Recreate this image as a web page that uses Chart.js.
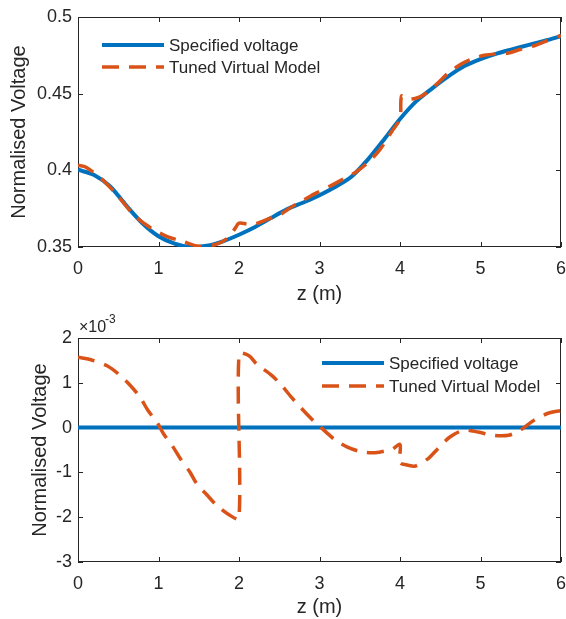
<!DOCTYPE html>
<html>
<head>
<meta charset="utf-8">
<script src="https://cdn.jsdelivr.net/npm/chart.js@4.4.1/dist/chart.umd.min.js"></script>
<style>
  body { margin: 0; background: #fff; }
  #wrap { position: relative; width: 566px; height: 619px; }
  canvas { position: absolute; left: 0; }
  #top { top: 0; }
  #bottom { top: 310px; }
</style>
</head>
<body>
<div id="wrap">
  <canvas id="top" width="566" height="310"></canvas>
  <canvas id="bottom" width="566" height="309"></canvas>
</div>
<script>
// ---- data ----
const xTicks = [0, 1, 2, 3, 4, 5, 6];

// top plot: normalised voltage
const zSpec = [0, 0.2, 0.4, 0.6, 0.8, 1.0, 1.2, 1.4, 1.6, 1.8, 2.0, 2.2, 2.4, 2.6, 2.8, 3.0,
               3.2, 3.4, 3.6, 3.8, 4.0, 4.2, 4.4, 4.6, 4.8, 5.0, 5.2, 5.4, 5.6, 5.8, 6.0];
const vSpec = [0.4004, 0.397, 0.3895, 0.377, 0.3655, 0.357, 0.3522, 0.3500, 0.3508, 0.3537, 0.358,
               0.3630, 0.3690, 0.3747, 0.3790, 0.3838, 0.3893, 0.3960, 0.4070, 0.4200, 0.4335,
               0.4450, 0.4535, 0.4613, 0.4680, 0.4725, 0.4761, 0.4790, 0.4818, 0.4845, 0.4875];
const zTuned = [0, 0.1, 0.3, 0.5, 0.7, 0.9, 1.1, 1.3, 1.5, 1.7, 1.85, 1.95, 2.0, 2.1, 2.2, 2.35,
                2.5, 2.65, 2.8, 2.95, 3.15, 3.3, 3.45, 3.6, 3.75, 3.9, 4.0, 4.02, 4.1, 4.2, 4.3,
                4.45, 4.6, 4.75, 4.9, 5.05, 5.2, 5.35, 5.5, 5.65, 5.8, 6.0];
const vTuned = [0.4033, 0.4020, 0.3940, 0.3830, 0.3705, 0.3625, 0.3570, 0.3537, 0.3505, 0.3515,
                0.3555, 0.3620, 0.3655, 0.3650, 0.3650, 0.3680, 0.3708, 0.3760, 0.3805, 0.3850,
                0.3902, 0.3945, 0.3988, 0.4050, 0.4135, 0.4255, 0.4337, 0.4485, 0.4465, 0.4470,
                0.4495, 0.4560, 0.4635, 0.4690, 0.4728, 0.4750, 0.4760, 0.4765, 0.4790, 0.4810,
                0.4840, 0.4880];
const topYTicks = [0.35, 0.4, 0.45, 0.5];
const topYLabels = ['0.35', '0.4', '0.45', '0.5'];

// bottom plot: values in units of 1e-3
const zErrSpec = [0, 6];
const vErrSpec = [0, 0];
const zErr = [0, 0.17, 0.36, 0.5, 0.65, 0.77, 0.87, 0.98, 1.06, 1.18, 1.27, 1.39, 1.47, 1.6, 1.72,
              1.88, 2.0, 2.0, 2.12, 2.22, 2.41, 2.53, 2.65, 2.78, 2.92, 3.02, 3.19, 3.34, 3.52,
              3.69, 3.9, 4.0, 4.0, 4.1, 4.19, 4.35, 4.47, 4.62, 4.79, 4.97, 5.15, 5.35, 5.49,
              5.66, 5.84, 6.0];
const vErr = [1.57, 1.51, 1.38, 1.20, 0.94, 0.68, 0.38, 0.12, -0.13, -0.43, -0.69, -0.99, -1.24,
              -1.50, -1.73, -1.95, -2.03, 1.64, 1.61, 1.42, 1.16, 0.94, 0.68, 0.42, 0.16, 0.0,
              -0.27, -0.43, -0.54, -0.56, -0.48, -0.38, -0.78, -0.84, -0.86, -0.69, -0.47, -0.21,
              -0.06, -0.10, -0.17, -0.17, -0.06, 0.16, 0.32, 0.38];
const botYTicks = [-3, -2, -1, 0, 1, 2];
const botYLabels = ['-3', '-2', '-1', '0', '1', '2'];

const BLUE = '#0072BD';
const ORANGE = '#D95319';
const INK = '#262626';
const FONT = '"Liberation Sans", Arial, sans-serif';

function pts(xs, ys) {
    return xs.map((x, i) => ({x: x, y: ys[i]}));
}

// matlab style box, inward ticks, legend and exponent label
const frame = {
    id: 'frame',
    beforeDatasetsDraw(chart) {
        const ctx = chart.ctx;
        const a = chart.chartArea;
        const sx = chart.scales.x, sy = chart.scales.y;
        ctx.save();
        ctx.strokeStyle = INK;
        ctx.lineWidth = 1;
        ctx.strokeRect(Math.round(a.left) + 0.5, Math.round(a.top) + 0.5,
                       Math.round(a.width) - 1, Math.round(a.height) - 1);
        ctx.beginPath();
        sx.ticks.forEach(t => {
            const p = Math.round(sx.getPixelForValue(t.value)) + 0.5;
            ctx.moveTo(p, a.bottom); ctx.lineTo(p, a.bottom - 5);
            ctx.moveTo(p, a.top); ctx.lineTo(p, a.top + 5);
        });
        sy.ticks.forEach(t => {
            const p = Math.round(sy.getPixelForValue(t.value)) + 0.5;
            ctx.moveTo(a.left, p); ctx.lineTo(a.left + 5, p);
            ctx.moveTo(a.right, p); ctx.lineTo(a.right - 5, p);
        });
        ctx.stroke();
        ctx.restore();
    },
    afterDraw(chart, args, opts) {
        const ctx = chart.ctx;
        ctx.save();
        ctx.font = '17px ' + FONT;
        ctx.textBaseline = 'middle';
        chart.data.datasets.forEach((ds, i) => {
            const y = opts.legendY + i * opts.rowGap;
            ctx.beginPath();
            ctx.strokeStyle = ds.borderColor;
            ctx.lineWidth = ds.borderWidth;
            ctx.setLineDash(ds.borderDash || []);
            ctx.moveTo(opts.legendX, y);
            ctx.lineTo(opts.legendX + 62, y);
            ctx.stroke();
            ctx.setLineDash([]);
            ctx.fillStyle = INK;
            ctx.fillText(ds.label, opts.legendX + 67, y + 1);
        });
        if (opts.exponent) {
            ctx.textBaseline = 'alphabetic';
            ctx.font = '16px ' + FONT;
            ctx.fillText('\u00d710', 79, 22);
            ctx.font = '12px ' + FONT;
            ctx.fillText('-3', 105, 13);
        }
        ctx.restore();
    }
};

function makeChart(id, datasets, yTicks, yLabels, cfg) {
    return new Chart(document.getElementById(id), {
        type: 'line',
        data: {datasets: datasets},
        options: {
            responsive: false,
            animation: false,
            layout: {padding: {top: cfg.padTop, right: 5, left: 0, bottom: 0}},
            elements: {point: {radius: 0}, line: {tension: 0.3, borderCapStyle: 'butt'}},
            plugins: {
                legend: {display: false},
                tooltip: {enabled: false},
                frame: cfg.frame
            },
            scales: {
                x: {
                    type: 'linear', min: 0, max: 6,
                    afterBuildTicks: s => { s.ticks = xTicks.map(v => ({value: v})); },
                    afterFit: s => {
                        s.height = cfg.xHeight;
                        s.paddingLeft = 0; s.paddingRight = 0;
                    },
                    grid: {display: false, drawTicks: false},
                    border: {display: false},
                    ticks: {autoSkip: false, maxRotation: 0, padding: 11, color: INK,
                            font: {family: FONT, size: 18}},
                    title: {display: true, text: 'z (m)', color: INK,
                            font: {family: FONT, size: 20},
                            padding: {top: 0, bottom: cfg.xTitlePad}}
                },
                y: {
                    min: yTicks[0], max: yTicks[yTicks.length - 1],
                    afterBuildTicks: s => { s.ticks = yTicks.map(v => ({value: v})); },
                    afterFit: s => {
                        s.width = 78;
                        s.paddingTop = 0; s.paddingBottom = 0;
                    },
                    grid: {display: false, drawTicks: false},
                    border: {display: false},
                    ticks: {autoSkip: false, padding: 6, color: INK,
                            font: {family: FONT, size: 18},
                            callback: v => yLabels[yTicks.indexOf(v)]},
                    title: {display: true, text: 'Normalised Voltage', color: INK,
                            font: {family: FONT, size: 20},
                            padding: {top: cfg.yTitlePad, bottom: 0}}
                }
            }
        },
        plugins: [frame]
    });
}

// orange drawn over blue, as in the reference
makeChart('top', [
    {label: 'Specified voltage', data: pts(zSpec, vSpec), borderColor: BLUE, borderWidth: 4,
     order: 1},
    {label: 'Tuned Virtual Model', data: pts(zTuned, vTuned), borderColor: ORANGE,
     borderWidth: 3.5, borderDash: [17, 10], order: 0}
], topYTicks, topYLabels, {
    padTop: 17, xHeight: 63, xTitlePad: 4, yTitlePad: 7,
    frame: {legendX: 102, legendY: 45, rowGap: 22, exponent: false}
});

makeChart('bottom', [
    {label: 'Specified voltage', data: pts(zErrSpec, vErrSpec), borderColor: BLUE, borderWidth: 4,
     order: 1},
    {label: 'Tuned Virtual Model', data: pts(zErr, vErr), borderColor: ORANGE,
     borderWidth: 3.5, borderDash: [17, 10], order: 0}
], botYTicks, botYLabels, {
    padTop: 28, xHeight: 57, xTitlePad: 0, yTitlePad: 28,
    frame: {legendX: 322, legendY: 53, rowGap: 23, exponent: true}
});
</script>
</body>
</html>
